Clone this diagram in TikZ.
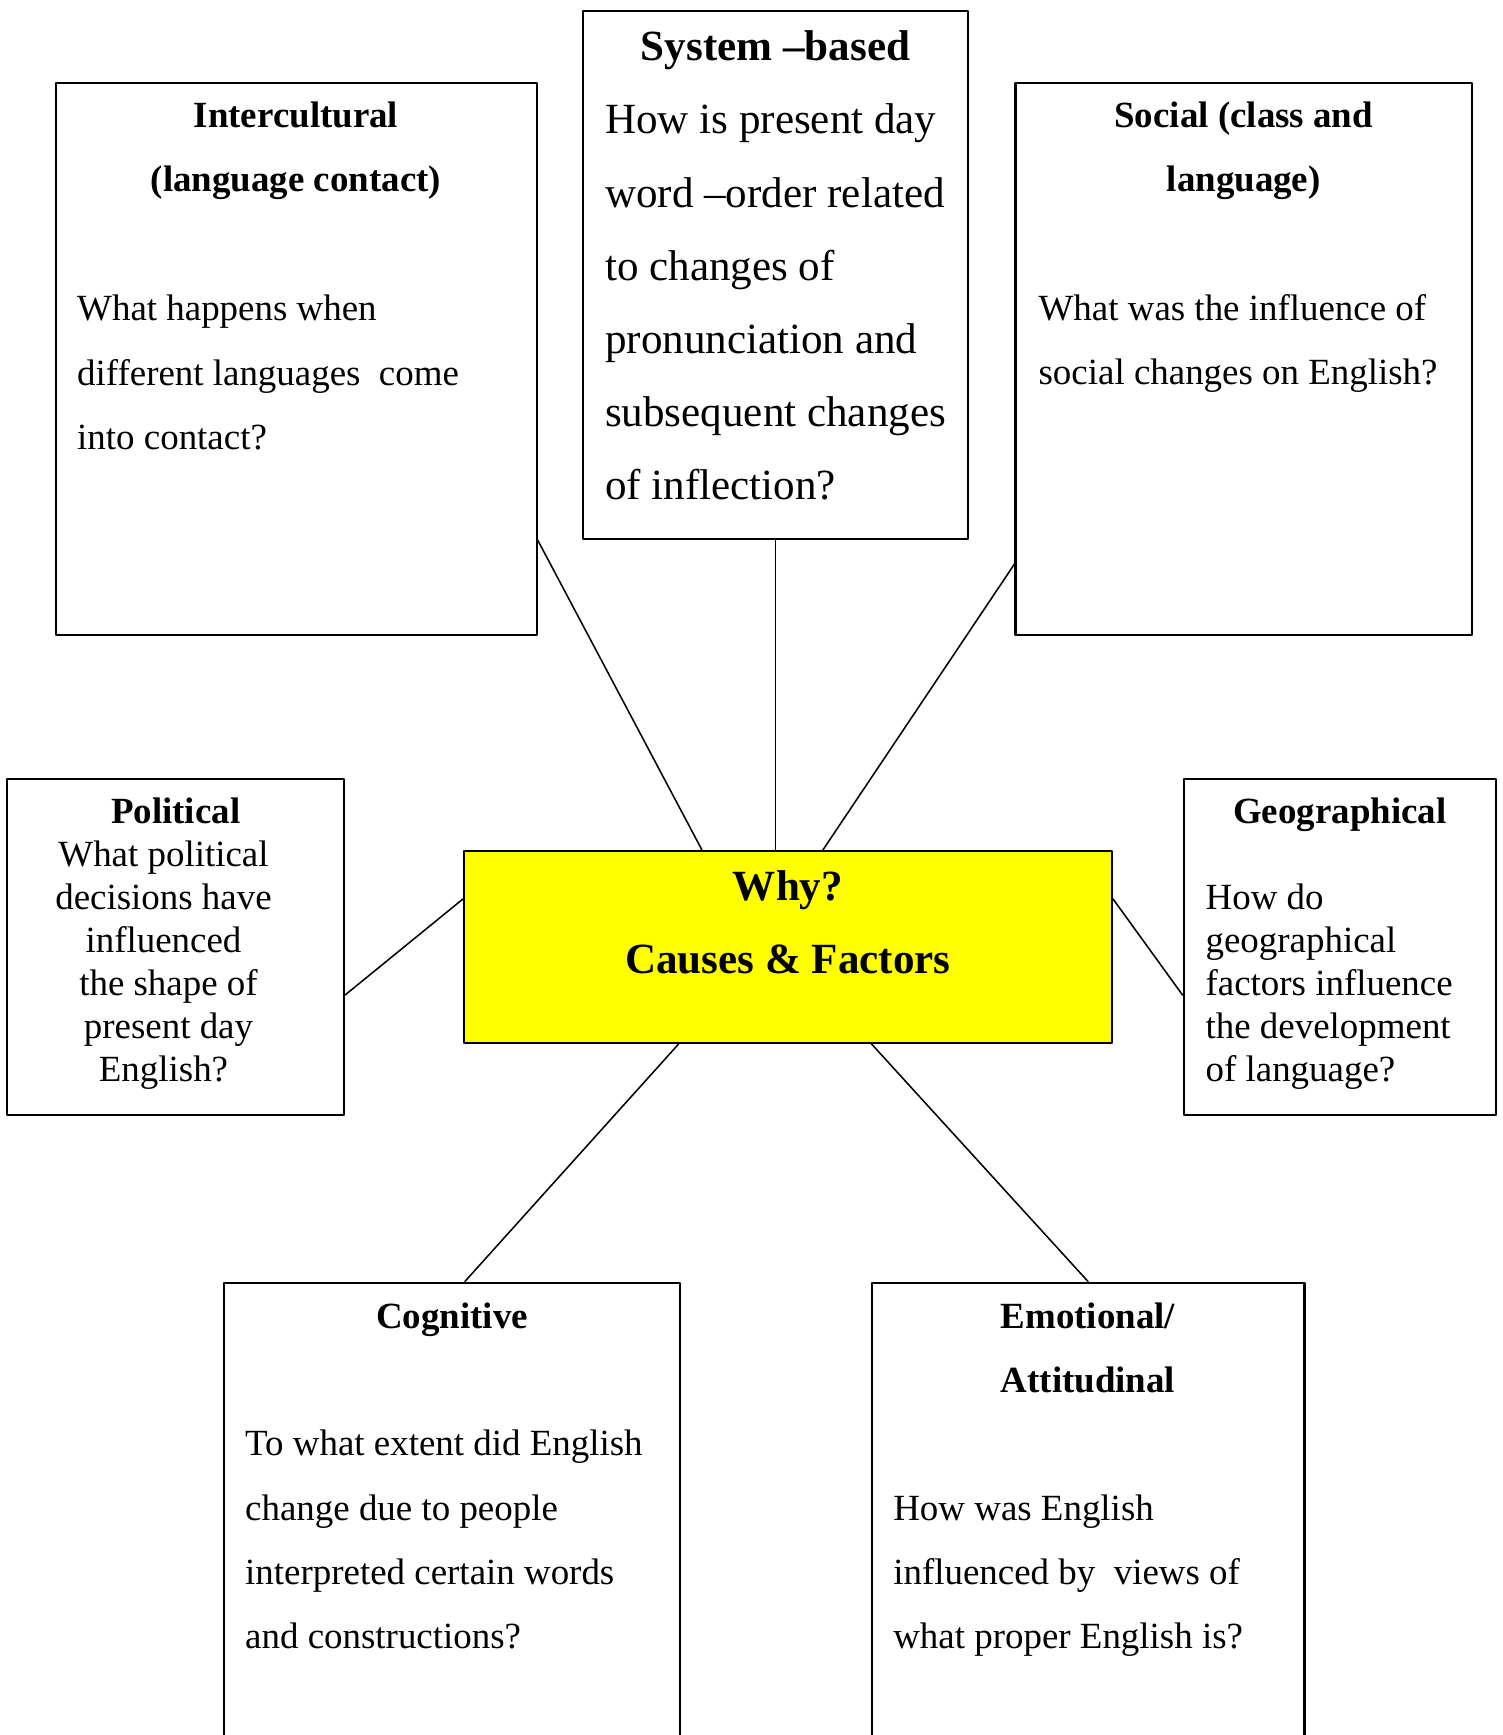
\documentclass[tikz,border=0pt]{standalone}
\usepackage{fontspec}
\setmainfont{Liberation Serif}
\usetikzlibrary{calc,fit}
\definecolor{hubyellow}{RGB}{255,255,0}

\begin{document}
\begin{tikzpicture}[x=0.325pt,y=-0.325pt,line join=round,line cap=round,
  card/.style={draw,line width=0.7pt,inner sep=0pt},
  link/.style={line width=0.5pt},
  head/.style={inner sep=0pt,anchor=base,align=center,font=\fontsize{12}{20.9}\selectfont\bfseries},
  body/.style={inner sep=0pt,anchor=base west,align=left,font=\fontsize{12}{20.9}\selectfont},
  headsingle/.style={head,font=\fontsize{12}{13.96}\selectfont\bfseries},
  bodysingle/.style={body,font=\fontsize{12}{13.96}\selectfont},
  headbig/.style={head,font=\fontsize{14}{23.8}\selectfont\bfseries},
  bodybig/.style={body,font=\fontsize{14}{23.8}\selectfont}]

  % ---- page (image pixels, y counted downwards) ----
  \useasboundingbox (0,0) rectangle (1502,1735);
  \clip (0,0) rectangle (1502,1735);

  % ---- boxes ----
  \node[card,fit={(55.7,83) (536.6,635)}] (inter) {};
  \node[card,fit={(583,11) (968,539)}] (sys) {};
  \node[card,fit={(1015.5,83) (1472,635)}] (soc) {};
  \node[card,fit={(7.3,779) (344,1115)}] (pol) {};
  \node[card,fill=hubyellow,fit={(464,851) (1112,1043)}] (why) {};
  \node[card,fit={(1183.6,779) (1496,1115)}] (geo) {};
  \node[card,fit={(223.7,1282.6) (680,1760)}] (cog) {};   % runs off the page
  \node[card,fit={(871.6,1282.6) (1304.5,1760)}] (emo) {}; % runs off the page

  % ---- spokes ----
  \draw[link] (inter.east |- sys.south) -- ($(why.north west)+(239,0)$);
  \draw[link] (sys.south) -- (sys.south |- why.north);
  \draw[link] ($(soc.south west)+(0,-72)$) -- ($(why.north west)+(360,0)$);
  \draw[link] ($(pol.east)+(0,48)$) -- ($(why.west)+(0,-48)$);
  \draw[link] ($(why.east)+(0,-48)$) -- ($(geo.west)+(0,48)$);
  \draw[link] ($(why.south west)+(215.6,0)$) -- ($(cog.north)+(13,0)$);
  \draw[link] ($(why.south west)+(408.7,0)$) -- (emo.north);

  % ---- texts (each placed at the baseline of its last line) ----
  \node[headbig] (whyText) at (788,973.3) {Why?\\Causes \& Factors};

  % top row
  \node[head] (interHead) at (296,192) {Intercultural\\(language contact)};
  \node[body] (interText) at (76.6,449.6) {What happens when\\different languages\ \ come\\into contact?};

  \node[headbig] (sysHead) at (775.5,60.3) {System –based};
  \node[bodybig] (sysText) at (604.5,500) {How is present day\\word –order related\\to changes of\\pronunciation and\\subsequent changes\\of inflection?};

  \node[head] (socHead) at (1243.7,192) {Social (class and\\language)};
  \node[body] (socText) at (1038,384.8) {What was the influence of\\social changes on English?};

  % middle row
  \node[headsingle] (polHead) at (175.7,823.3) {Political};
  \node[bodysingle,anchor=base,align=center] (polText) at (163.5,1081)
    {What political\\decisions have\\influenced\\\hspace*{.27em}the shape of\\\hspace*{.27em}present day\\English?};

  \node[headsingle] (geoHead) at (1339.8,823.3) {Geographical};
  \node[bodysingle] (geoText) at (1205,1081) {How do\\geographical\\factors influence\\the development\\of language?};

  % bottom row
  \node[head] (cogHead) at (452,1328) {Cognitive};
  \node[body] (cogText) at (244.6,1648.8) {To what extent did English\\change due to people\\interpreted certain words\\and constructions?};

  \node[head] (emoHead) at (1088,1392.8) {Emotional/\\Attitudinal};
  \node[body] (emoText) at (892.7,1648.8) {How was English\\influenced by\ \ views of\\what proper English is?};

\end{tikzpicture}
\end{document}
